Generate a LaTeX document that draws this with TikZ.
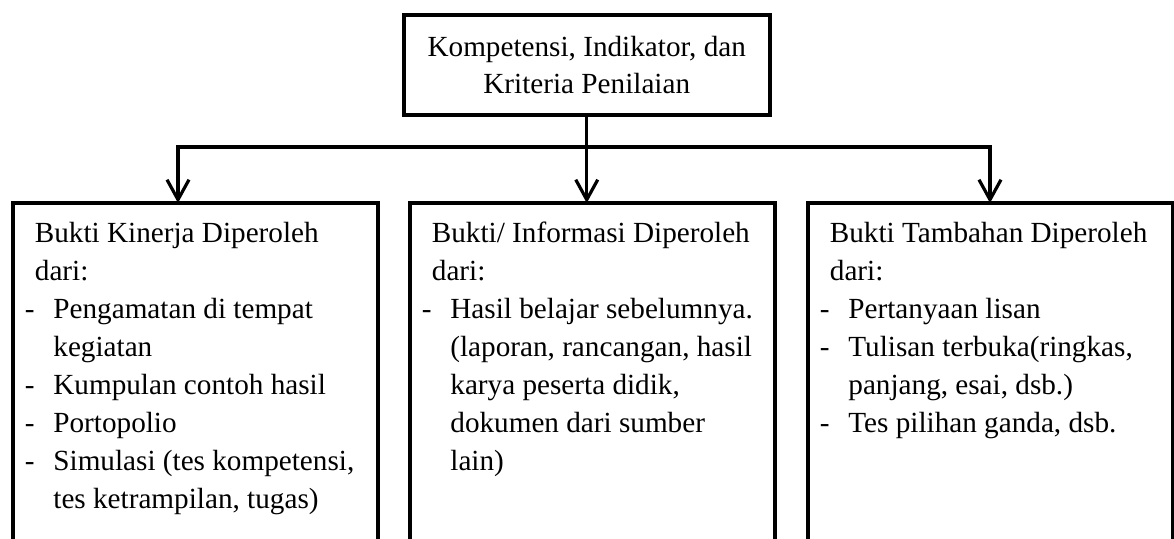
\documentclass[tikz,border=0pt]{standalone}
\usepackage{fontspec}
\setmainfont{Liberation Serif}
\usetikzlibrary{arrows.meta}
% line helpers for the evidence lists
\newcommand\headln[1]{\hspace*{5pt}#1}
\newcommand\dashln[1]{\makebox[14.25pt][l]{-}#1}
\newcommand\contln[1]{\hspace*{14.25pt}#1}
\begin{document}
\begin{tikzpicture}[x=0.5pt,y=-0.5pt,
  evbox/.style={draw, line width=2pt, rectangle, inner sep=0pt, outer sep=0pt,
    minimum width=182.5pt, minimum height=200pt, anchor=north west},
  topbox/.style={draw, line width=2pt, rectangle, inner sep=0pt, outer sep=0pt,
    minimum width=183.25pt, minimum height=50pt, align=center,
    font=\fontsize{14.6pt}{18.5pt}\selectfont},
  evtext/.style={anchor=base west, inner sep=0pt, xshift=6pt, yshift=-20pt,
    font=\fontsize{14.6pt}{19pt}\selectfont},
  conn/.style={line width=1.6pt, line join=miter},
  tip/.style={-{Straight Barb[length=10pt,width=11pt]}},
  tips/.style={{Straight Barb[length=10pt,width=11pt]}-{Straight Barb[length=10pt,width=11pt]}}]
\useasboundingbox (0,0) rectangle (1174,539);
\clip (0,0) rectangle (1174,539);

% root box
\node[topbox] (root) at (586.75,65) {Kompetensi, Indikator, dan\\Kriteria Penilaian};

% three evidence boxes (open below the page edge)
\node[evbox] (kinerja) at (12.5,203) {};
\node[evbox] (info) at (409.5,203) {};
\node[evbox] (tambahan) at (807.5,203) {};

% contents
\node[evtext] (tk) at (kinerja.north west) {\begin{tabular}[t]{@{}l@{}}
\headln{Bukti Kinerja Diperoleh}\\
\headln{dari:}\\
\dashln{Pengamatan di tempat}\\
\contln{kegiatan}\\
\dashln{Kumpulan contoh hasil}\\
\dashln{Portopolio}\\
\dashln{Simulasi (tes kompetensi,}\\
\contln{tes ketrampilan, tugas)}
\end{tabular}};

\node[evtext] (ti) at (info.north west) {\begin{tabular}[t]{@{}l@{}}
\headln{Bukti/ Informasi Diperoleh}\\
\headln{dari:}\\
\dashln{Hasil belajar sebelumnya.}\\
\contln{(laporan, rancangan, hasil}\\
\contln{karya peserta didik,}\\
\contln{dokumen dari sumber}\\
\contln{lain)}
\end{tabular}};

\node[evtext] (tt) at (tambahan.north west) {\begin{tabular}[t]{@{}l@{}}
\headln{Bukti Tambahan Diperoleh}\\
\headln{dari:}\\
\dashln{Pertanyaan lisan}\\
\dashln{Tulisan terbuka(ringkas,}\\
\contln{panjang, esai, dsb.)}\\
\dashln{Tes pilihan ganda, dsb.}
\end{tabular}};

% connectors
\coordinate (jl) at (178,147);
\coordinate (jr) at (990,147);
\draw[conn, tips] (jl |- kinerja.north) -- (jl) -- (jr) -- (jr |- tambahan.north);
\draw[conn, tip] (root.south) -- (root.south |- info.north);
\end{tikzpicture}
\end{document}
